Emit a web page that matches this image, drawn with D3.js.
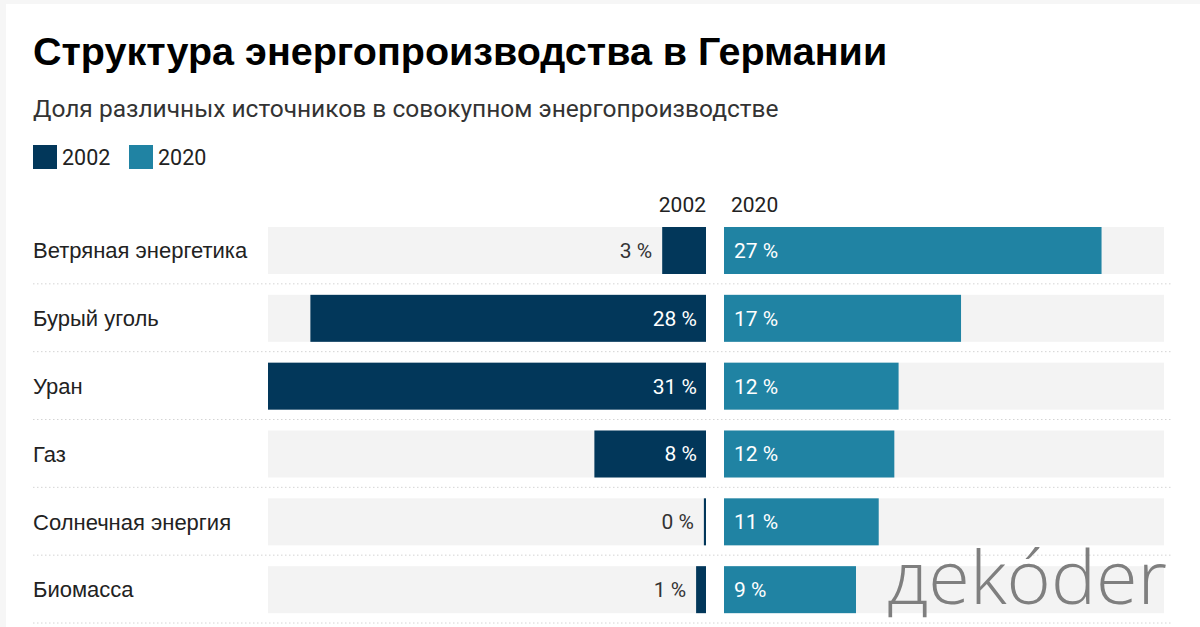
<!DOCTYPE html>
<html><head><meta charset="utf-8">
<script src="https://cdn.jsdelivr.net/npm/d3@7"></script>
<style>
html,body{margin:0;padding:0;background:#f6f6f6;}
svg{display:block;}
</style></head>
<body>
<svg id="chart" width="1200" height="627"></svg>
<script>
const categories = ["Ветряная энергетика","Бурый уголь","Уран","Газ","Солнечная энергия","Биомасса"];
const values2002 = [3.1, 28.0, 31.0, 7.9, 0.15, 0.7];
const values2020 = [26.6, 16.7, 12.3, 12.0, 10.9, 9.3];
const seriesNames = ["2002","2020"];
const colors = {"2002":"#02375a","2020":"#2083a3"};

const svg = d3.select("#chart");
svg.append("rect").attr("x",6).attr("y",4).attr("width",1194).attr("height",623).attr("fill","#fff");

svg.append("text").attr("x",33).attr("y",65)
  .attr("font-family","Liberation Sans, Arial, sans-serif").attr("font-weight","bold")
  .attr("font-size",39.5).attr("fill","#000")
  .text("Структура энергопроизводства в Германии");
svg.append("text").attr("x",33).attr("y",117)
  .attr("font-family","Roboto, sans-serif").attr("font-size",24.5).attr("fill","#333")
  .text("Доля различных источников в совокупном энергопроизводстве");

// legend
const legX = [33,129];
seriesNames.forEach((s,i)=>{
  svg.append("rect").attr("x",legX[i]).attr("y",145).attr("width",24).attr("height",24).attr("fill",colors[s]);
  svg.append("text").attr("x",legX[i]+29).attr("y",165).attr("font-family","Roboto, sans-serif")
    .attr("font-size",21.5).attr("fill","#222").text(s);
});

const maxV = d3.max(values2002.concat(values2020));
const xL = d3.scaleLinear().domain([0,maxV]).range([706,268]);
const xR = d3.scaleLinear().domain([0,maxV]).range([724,1164]);
const y = d3.scaleBand().domain(categories).range([216,623]);
const barTop = 11, barH = 47;
const fmt = v => d3.format(".0f")(v) + " %";

// column headers
svg.append("text").attr("x",xL(0)).attr("y",212).attr("text-anchor","end")
  .attr("font-family","Roboto, sans-serif").attr("font-size",21).attr("fill","#222").text(seriesNames[0]);
svg.append("text").attr("x",xR(0)+7).attr("y",212)
  .attr("font-family","Roboto, sans-serif").attr("font-size",21).attr("fill","#222").text(seriesNames[1]);

const rows = svg.selectAll("g.row").data(categories).join("g").attr("class","row")
  .attr("transform",d=>`translate(0,${y(d)})`);

rows.append("line").attr("x1",33).attr("x2",1172).attr("y1",y.bandwidth()).attr("y2",y.bandwidth())
  .attr("stroke","#d4d4d4").attr("stroke-width",1).attr("stroke-dasharray","1.5,2.5");

rows.append("text").attr("x",33).attr("y",barTop+barH/2).attr("dy","0.35em")
  .attr("font-family","Liberation Sans, Arial, sans-serif").attr("font-size",22).attr("fill","#222")
  .text(d=>d);

// backgrounds
rows.append("rect").attr("x",xL(maxV)).attr("width",xL(0)-xL(maxV)).attr("y",barTop).attr("height",barH).attr("fill","#f3f3f3");
rows.append("rect").attr("x",xR(0)).attr("width",xR(maxV)-xR(0)).attr("y",barTop).attr("height",barH).attr("fill","#f3f3f3");

// bars
rows.append("rect").attr("x",(d,i)=>xL(values2002[i])).attr("width",(d,i)=>xL(0)-xL(values2002[i]))
  .attr("y",barTop).attr("height",barH).attr("fill",colors["2002"]);
rows.append("rect").attr("x",xR(0)).attr("width",(d,i)=>xR(values2020[i])-xR(0))
  .attr("y",barTop).attr("height",barH).attr("fill",colors["2020"]);

// labels
rows.append("text").attr("y",barTop+barH/2).attr("dy","0.35em").attr("text-anchor","end")
  .attr("font-family","Roboto, sans-serif").attr("font-size",21)
  .attr("x",(d,i)=> values2002[i] > 5 ? xL(0)-9 : xL(values2002[i])-10)
  .attr("fill",(d,i)=> values2002[i] > 5 ? "#fff" : "#333")
  .text((d,i)=>fmt(values2002[i]));
rows.append("text").attr("y",barTop+barH/2).attr("dy","0.35em")
  .attr("font-family","Roboto, sans-serif").attr("font-size",21)
  .attr("x",xR(0)+10).attr("fill","#fff")
  .text((d,i)=>fmt(values2020[i]));

// logo
svg.append("text").attr("x",887).attr("y",604)
  .attr("font-family","Open Sans, sans-serif").attr("font-weight",300).attr("font-size",74)
  .attr("fill","#7f7f7f").attr("textLength",280).attr("lengthAdjust","spacingAndGlyphs")
  .text("дekóder");
</script>
</body></html>
